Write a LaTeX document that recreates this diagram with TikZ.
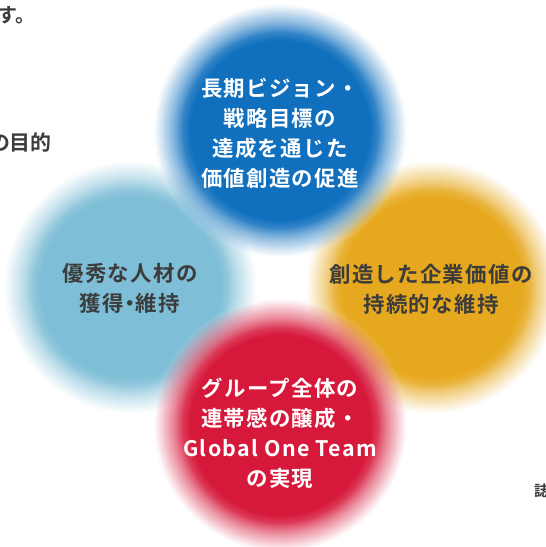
\documentclass[tikz,border=0pt]{standalone}
\usepackage{fontspec}
\setmainfont{Noto Sans CJK JP}[BoldFont={* Bold}]
\usetikzlibrary{fadings}
\definecolor{cblue}{RGB}{16,112,190}
\definecolor{clight}{RGB}{126,190,214}
\definecolor{corange}{RGB}{230,168,30}
\definecolor{cred}{RGB}{214,24,58}
\definecolor{ctext}{RGB}{60,60,60}
\pgfdeclareradialshading{shblue}{\pgfpointorigin}{color(0bp)=(cblue); color(17.5bp)=(cblue); color(24bp)=(cblue!40!white); color(25bp)=(white); color(50bp)=(white)}
\pgfdeclareradialshading{shlight}{\pgfpointorigin}{color(0bp)=(clight); color(17.5bp)=(clight); color(24bp)=(clight!40!white); color(25bp)=(white); color(50bp)=(white)}
\pgfdeclareradialshading{shorange}{\pgfpointorigin}{color(0bp)=(corange); color(17.5bp)=(corange); color(24bp)=(corange!40!white); color(25bp)=(white); color(50bp)=(white)}
\pgfdeclareradialshading{shred}{\pgfpointorigin}{color(0bp)=(cred); color(17.5bp)=(cred); color(24bp)=(cred!40!white); color(25bp)=(white); color(50bp)=(white)}
\pgfdeclareradialshading{fadesh}{\pgfpointorigin}{color(0bp)=(pgftransparent!0); color(19bp)=(pgftransparent!0); color(22.5bp)=(pgftransparent!45); color(25bp)=(pgftransparent!100); color(50bp)=(pgftransparent!100)}
\pgfdeclarefading{softfade}{\pgfuseshading{fadesh}}
\newcommand{\ndot}{\hspace{-0.22em}・\hspace{-0.22em}}
\tikzset{
  ball/.style={shading=#1, path fading=softfade},
  whitetxt/.style={text=white, font=\bfseries\fontsize{21.5}{30}\selectfont\addfontfeature{LetterSpace=6}, align=center, inner sep=0pt},
  darktxt/.style={text=ctext, font=\bfseries\fontsize{21.5}{30}\selectfont\addfontfeature{LetterSpace=6}, align=center, inner sep=0pt},
  edgetxt/.style={text=ctext, font=\bfseries\fontsize{20}{24}\selectfont, inner sep=0pt}
}
\begin{document}
\begin{tikzpicture}[x=1bp,y=-1bp]
\useasboundingbox (0,0) rectangle (546,547);
\coordinate (cL) at (130,287);
\coordinate (cO) at (432,287);
\coordinate (cB) at (280,130);
\coordinate (cR) at (280,425);
\shade[ball=shlight] (cL) circle[radius=128];
\shade[ball=shorange] (cO) circle[radius=128];
\shade[ball=shblue] (cB) circle[radius=128];
\shade[ball=shred] (cR) circle[radius=128];
\node[whitetxt] (tB) at (280,133) {長期ビジョン・\\戦略目標の\\達成を通じた\\価値創造の促進};
\node[darktxt] (tL) at (130,288) {優秀な人材の\\獲得\ndot 維持};
\node[darktxt] (tO) at (431,289) {創造した企業価値の\\持続的な維持};
\node[whitetxt] (tR) at (280,433) {グループ全体の\\連帯感の醸成・\\Global One Team\\の実現};
\node[edgetxt, anchor=west] (e1) at (-3,15) {す。};
\node[edgetxt, font=\bfseries\fontsize{21}{24}\selectfont, anchor=east] (e2) at (52,142) {の目的};
\node[edgetxt, font=\bfseries\fontsize{15}{18}\selectfont, anchor=west] (e3) at (534,491) {誌};
\end{tikzpicture}
\end{document}
